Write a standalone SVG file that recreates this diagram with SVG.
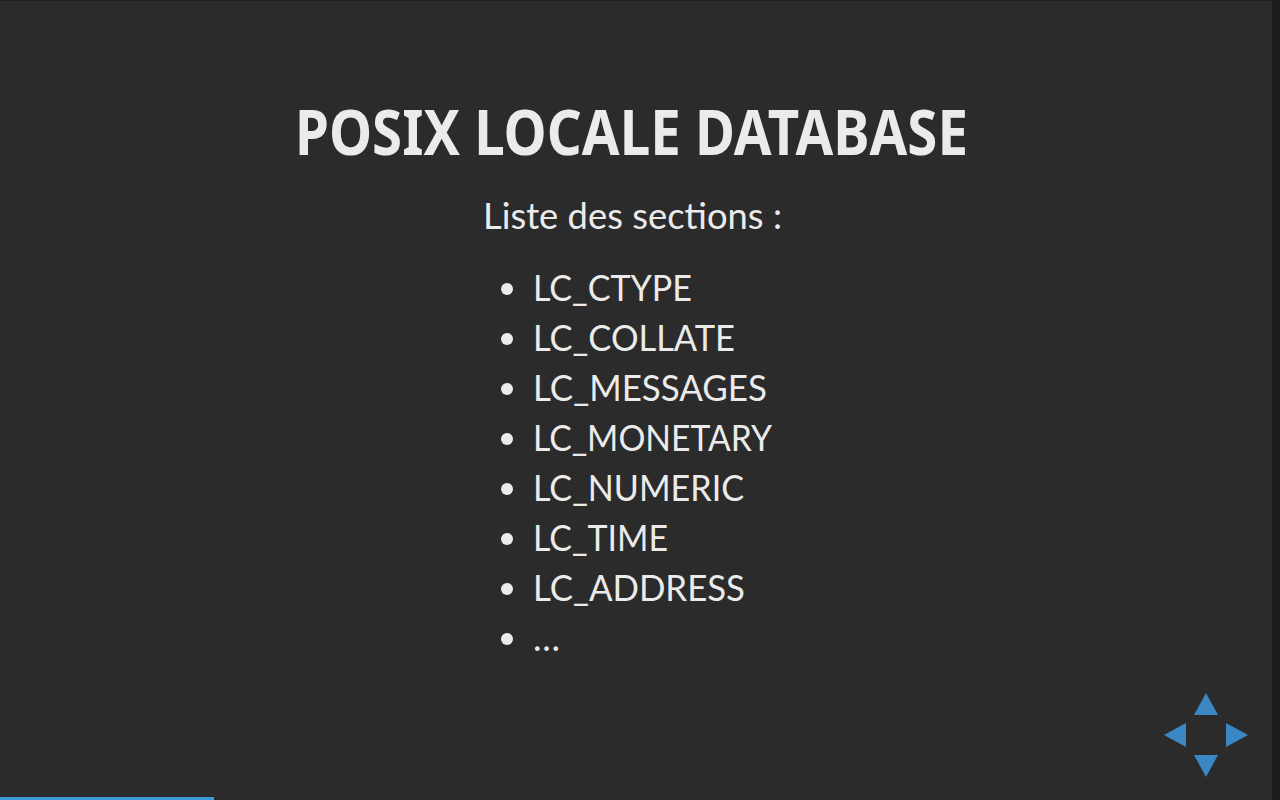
<svg xmlns="http://www.w3.org/2000/svg" width="1280" height="800" viewBox="0 0 1280 800">
<style>
.t{fill:#ebebeb;font-family:"Noto Sans","Open Sans","Liberation Sans",sans-serif}
.h{font-weight:bold;font-size:63px}
.s{font-size:37px;font-family:Lato,"Noto Sans",sans-serif}
.li{font-size:36px;font-family:Lato,"Noto Sans",sans-serif}
.nav{fill:#3a87c3}
</style>
<rect x="0" y="0" width="1280" height="800" fill="#2b2b2b"/>
<rect x="0" y="0" width="1280" height="1" fill="#1f1f1f"/>
<rect x="1272" y="0" width="8" height="800" fill="#1d1d1d"/>
<g id="title"><text class="t h" x="295" y="155" textLength="673" lengthAdjust="spacingAndGlyphs">POSIX LOCALE DATABASE</text></g>
<g id="subtitle"><text class="t s" x="483" y="229" textLength="299" lengthAdjust="spacingAndGlyphs">Liste des sections :</text></g>
<g id="list" fill="#ebebeb">
<circle cx="507" cy="289" r="6"/>
<circle cx="507" cy="339" r="6"/>
<circle cx="507" cy="389" r="6"/>
<circle cx="507" cy="439" r="6"/>
<circle cx="507" cy="489" r="6"/>
<circle cx="507" cy="539" r="6"/>
<circle cx="507" cy="589" r="6"/>
<circle cx="507" cy="639" r="6"/>
<text class="t li" x="533" y="301" textLength="159" lengthAdjust="spacingAndGlyphs">LC_CTYPE</text>
<text class="t li" x="533" y="351" textLength="202" lengthAdjust="spacingAndGlyphs">LC_COLLATE</text>
<text class="t li" x="533" y="401" textLength="234" lengthAdjust="spacingAndGlyphs">LC_MESSAGES</text>
<text class="t li" x="533" y="451" textLength="239" lengthAdjust="spacingAndGlyphs">LC_MONETARY</text>
<text class="t li" x="533" y="501" textLength="211" lengthAdjust="spacingAndGlyphs">LC_NUMERIC</text>
<text class="t li" x="533" y="551" textLength="135" lengthAdjust="spacingAndGlyphs">LC_TIME</text>
<text class="t li" x="533" y="601" textLength="212" lengthAdjust="spacingAndGlyphs">LC_ADDRESS</text>
<text class="t li" x="533" y="651" textLength="33" lengthAdjust="spacing">…</text>
</g>
<g id="controls" class="nav">
<polygon points="1206,693 1218,715 1194,715"/>
<polygon points="1164,735 1186,723 1186,747"/>
<polygon points="1248,735 1226,723 1226,747"/>
<polygon points="1194,755 1218,755 1206,777"/>
</g>
<g id="progress"><rect x="0" y="797" width="214" height="3" fill="#3a9ad9"/></g>
</svg>
